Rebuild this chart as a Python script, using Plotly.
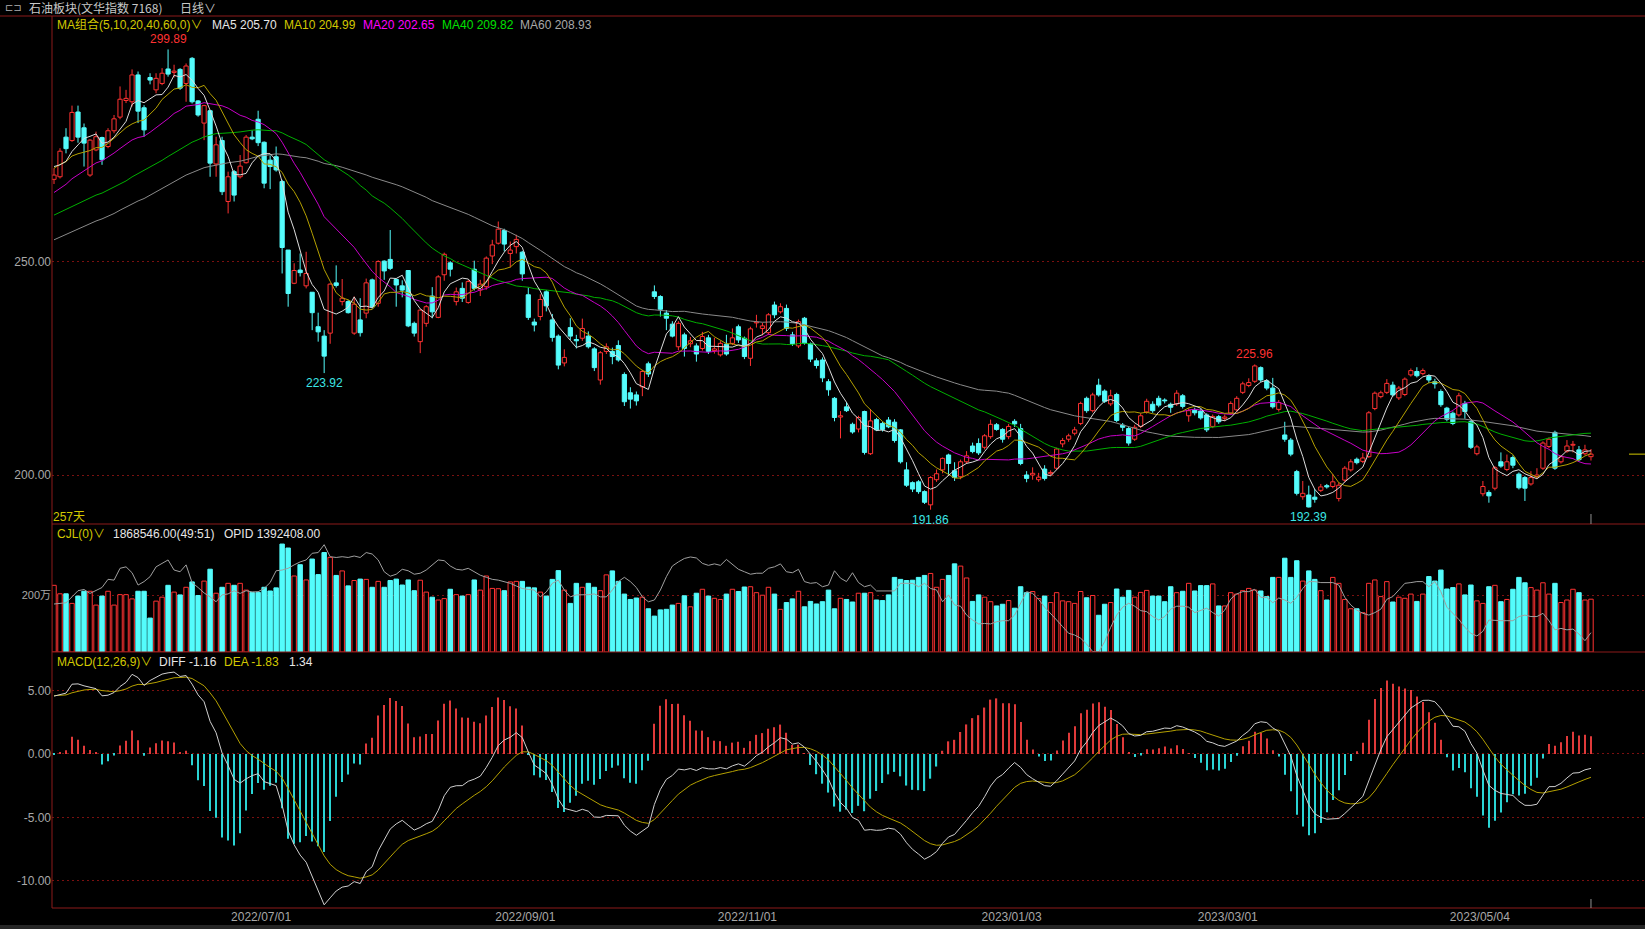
import numpy as np
import plotly.graph_objects as go

# ---------------- data ----------------
header_title = "石油板块(文华指数 7168)"
header_period = "日线∨"

pre_close = [238, 240, 242, 241, 239, 243, 245, 244, 246, 243,
             241, 244, 246, 248, 247, 245, 243, 246, 244, 247,
             249, 251, 253, 252, 250, 254, 256, 255, 253, 257,
             259, 258, 256, 254, 257, 259, 261, 260, 258, 262,
             258, 256, 259, 261, 260, 258, 262, 264, 263, 265,
             267, 270, 272, 274, 275,
             274, 272.5, 273.5, 271.6]

opens = [
    269.4, 270.0, 279.3, 278.5, 285.2, 281.5, 270.4, 276.3, 279.2, 277.1,
    280.8, 284.0, 287.9, 287.6, 293.9, 286.2, 293.3, 290.4, 291.9, 295.3,
    294.5, 295.2, 291.9, 297.8, 287.8, 282.6, 285.5, 273.0, 278.5, 264.2,
    271.2, 270.0, 273.3, 279.3, 283.5, 278.1, 273.9, 274.7, 268.9, 252.8,
    245.0, 248.1, 244.4, 242.9, 234.8, 232.6, 233.3, 245.1, 240.7, 240.7,
    233.3, 236.4, 238.0, 245.8, 240.3, 250.2, 250.6, 245.9, 244.4, 248.0,
    235.6, 231.3, 235.6, 242.0, 237.0, 247.0, 249.8, 240.7, 243.8, 240.5,
    248.3, 243.4, 244.2, 251.4, 254.4, 257.4, 252.0, 253.6, 252.3, 242.3,
    235.9, 237.2, 243.0, 236.4, 232.6, 226.3, 234.6, 231.8, 232.1, 232.6,
    229.6, 222.3, 229.0, 229.0, 230.4, 223.6, 219.3, 218.8, 220.7, 226.1,
    243.0, 241.9, 238.0, 235.4, 230.1, 232.9, 230.8, 230.3, 229.7, 232.2,
    229.2, 228.2, 230.7, 230.9, 234.8, 232.1, 227.4, 235.7, 234.4, 233.4,
    239.9, 238.3, 239.1, 232.9, 230.3, 236.8, 230.8, 226.8, 227.0, 221.9,
    218.0, 213.6, 216.0, 211.9, 210.8, 214.9, 205.0, 213.0, 212.1, 212.9,
    212.4, 210.6, 201.2, 198.2, 198.4, 196.1, 193.0, 198.9, 201.2, 204.7,
    201.0, 199.6, 203.1, 206.8, 207.4, 206.5, 209.0, 211.8, 210.7, 209.0,
    212.6, 210.9, 200.0, 200.0, 198.9, 201.4, 200.3, 201.6, 207.3, 208.4,
    209.8, 212.1, 218.0, 215.1, 221.1, 219.7, 216.7, 218.9, 211.7, 210.9,
    208.4, 211.4, 214.8, 216.6, 218.0, 217.6, 216.6, 216.7, 218.6, 213.9,
    215.2, 215.0, 214.1, 211.4, 213.7, 213.3, 214.5, 215.3, 219.4, 221.0,
    222.0, 225.2, 222.1, 220.4, 215.4, 209.4, 208.2, 200.8, 194.9, 195.3,
    194.8, 196.4, 197.5, 197.3, 194.5, 198.8, 201.2, 203.7, 203.2, 204.3,
    215.6, 218.4, 219.4, 221.1, 218.1, 218.9, 223.5, 224.3, 223.8, 223.1,
    221.9, 219.6, 215.7, 214.5, 214.1, 216.8, 212.5, 205.0, 195.6, 195.9,
    196.9, 203.1, 201.3, 204.1, 200.2, 199.4, 197.9, 199.6, 201.6, 206.7,
    210.0, 203.1, 205.6, 207.0, 205.9, 205.0, 204.3]

closes = [
    270.4, 276.0, 276.6, 285.1, 279.3, 277.9, 278.6, 279.4, 274.0, 280.8,
    283.6, 288.2, 288.4, 293.9, 285.4, 281.0, 292.7, 293.1, 294.3, 294.1,
    294.8, 290.8, 296.0, 287.6, 284.5, 286.7, 273.2, 277.5, 266.5, 270.0,
    265.7, 272.5, 279.3, 278.9, 278.0, 268.5, 272.4, 271.6, 253.4, 242.6,
    248.0, 247.5, 247.3, 238.1, 233.6, 227.9, 244.8, 244.5, 241.5, 238.1,
    240.1, 233.4, 245.1, 239.5, 250.1, 247.9, 248.5, 244.6, 243.4, 235.0,
    233.3, 238.7, 239.5, 238.3, 246.5, 251.8, 248.3, 243.0, 241.5, 245.4,
    243.8, 244.8, 250.9, 254.0, 257.7, 254.2, 252.8, 255.3, 247.2, 237.0,
    235.2, 241.2, 239.7, 232.3, 225.8, 227.6, 232.6, 231.5, 234.4, 230.1,
    225.2, 228.7, 230.1, 227.8, 227.0, 217.2, 217.8, 217.4, 224.3, 223.7,
    241.9, 238.9, 236.8, 232.6, 235.6, 229.7, 231.5, 228.4, 232.5, 229.0,
    229.6, 230.9, 228.4, 232.2, 231.7, 227.8, 234.3, 235.9, 235.0, 237.6,
    237.6, 239.5, 234.4, 230.8, 236.0, 230.9, 227.2, 225.7, 222.8, 220.0,
    213.5, 213.9, 215.1, 210.1, 213.5, 205.3, 212.7, 210.6, 210.7, 211.3,
    208.1, 203.1, 197.6, 196.7, 196.1, 193.6, 199.4, 200.3, 203.9, 202.7,
    199.4, 203.1, 204.5, 205.5, 205.2, 209.2, 211.9, 210.7, 208.4, 211.4,
    212.0, 202.7, 199.2, 200.4, 199.5, 199.2, 200.6, 206.1, 208.1, 209.2,
    210.6, 216.8, 215.1, 218.8, 218.8, 217.3, 218.6, 212.8, 211.2, 207.5,
    211.2, 213.9, 217.3, 215.1, 216.4, 217.4, 215.9, 219.2, 216.1, 215.1,
    214.6, 213.4, 210.6, 213.7, 212.5, 213.6, 216.8, 218.0, 221.4, 221.7,
    225.6, 222.3, 220.4, 216.0, 217.0, 208.4, 204.9, 195.7, 195.7, 192.5,
    194.3, 197.2, 197.2, 198.4, 197.6, 201.6, 203.1, 202.9, 204.0, 214.6,
    219.2, 219.3, 221.5, 218.8, 220.4, 222.5, 224.5, 223.3, 224.5, 222.3,
    221.4, 216.5, 213.1, 212.1, 218.6, 214.9, 206.5, 206.6, 197.3, 195.1,
    201.7, 202.1, 203.1, 202.3, 197.0, 196.9, 199.4, 200.0, 207.5, 208.4,
    201.6, 204.3, 206.8, 207.2, 203.6, 205.9, 204.9]

highs = [
    272.0, 276.7, 281.4, 286.7, 286.7, 282.5, 278.8, 280.6, 279.4, 281.4,
    284.5, 291.2, 290.4, 295.2, 294.7, 286.8, 294.3, 294.3, 295.5, 299.89,
    296.3, 295.5, 296.6, 298.1, 288.0, 286.9, 285.7, 279.4, 279.4, 271.2,
    271.6, 275.1, 279.8, 280.9, 285.5, 278.3, 275.0, 277.1, 269.3, 252.8,
    249.7, 252.0, 252.4, 242.9, 238.1, 234.0, 245.0, 249.2, 246.0, 241.1,
    241.9, 241.5, 246.1, 246.1, 250.4, 250.4, 257.5, 246.1, 245.7, 248.1,
    236.0, 238.9, 239.9, 244.1, 246.9, 252.2, 250.2, 244.0, 245.2, 245.8,
    250.3, 245.8, 251.3, 255.2, 259.5, 257.8, 254.8, 256.4, 252.6, 244.0,
    236.7, 242.4, 243.4, 237.8, 233.0, 229.5, 236.8, 232.9, 236.7, 233.7,
    230.0, 229.1, 230.9, 229.9, 231.6, 224.1, 220.6, 219.6, 224.7, 226.6,
    244.5, 242.2, 238.7, 236.1, 236.1, 233.4, 232.4, 230.9, 233.6, 232.9,
    232.2, 231.4, 232.9, 234.4, 235.3, 232.5, 234.8, 237.6, 235.7, 238.0,
    240.7, 240.3, 240.0, 233.6, 236.5, 237.1, 231.1, 227.4, 227.6, 222.5,
    218.3, 215.0, 217.1, 212.3, 213.9, 215.1, 215.5, 213.4, 212.5, 213.6,
    213.1, 210.8, 203.0, 198.5, 198.8, 196.4, 199.7, 201.3, 204.1, 205.0,
    203.0, 203.6, 205.6, 207.6, 208.6, 209.6, 213.0, 212.2, 211.0, 212.0,
    213.1, 212.0, 200.9, 201.8, 200.5, 202.3, 201.1, 206.4, 208.7, 209.7,
    211.3, 217.2, 218.4, 219.3, 222.6, 220.1, 220.0, 219.3, 212.2, 211.3,
    211.8, 214.5, 217.9, 217.3, 218.6, 218.0, 217.0, 219.9, 219.0, 215.7,
    215.8, 215.6, 214.5, 214.2, 214.1, 214.2, 217.3, 218.5, 221.9, 222.7,
    225.96, 225.5, 222.5, 222.8, 217.6, 212.5, 208.7, 201.2, 198.6, 197.5,
    196.7, 197.9, 197.9, 200.2, 198.2, 202.1, 203.7, 204.1, 205.2, 215.0,
    219.6, 219.8, 222.5, 221.9, 220.9, 222.9, 225.0, 225.3, 225.0, 223.6,
    222.6, 220.1, 216.0, 214.9, 219.3, 217.4, 212.9, 207.1, 198.6, 196.4,
    202.1, 205.3, 204.8, 204.6, 200.6, 199.8, 200.9, 201.6, 207.9, 208.8,
    210.4, 204.7, 208.2, 208.0, 206.8, 207.1, 206.1]

lows = [
    268.3, 269.6, 275.5, 278.2, 278.0, 272.4, 270.0, 276.0, 272.8, 276.7,
    280.2, 283.5, 287.3, 286.5, 282.6, 279.4, 291.7, 289.6, 291.5, 293.5,
    293.3, 290.4, 287.6, 287.2, 284.1, 278.6, 270.0, 270.0, 265.7, 261.4,
    264.2, 269.6, 273.1, 278.6, 277.2, 267.3, 267.1, 271.2, 247.3, 239.5,
    244.8, 246.6, 243.8, 234.0, 231.3, 223.92, 230.8, 244.0, 239.8, 237.9,
    232.9, 232.5, 236.8, 239.1, 239.5, 245.8, 248.1, 239.5, 241.7, 234.7,
    232.5, 228.6, 234.8, 236.8, 236.8, 245.6, 246.6, 239.8, 240.6, 240.2,
    243.3, 242.0, 243.5, 249.5, 254.1, 252.5, 248.7, 252.0, 245.6, 236.4,
    233.7, 236.3, 238.4, 231.3, 224.8, 225.5, 231.7, 229.7, 231.5, 229.7,
    224.4, 221.2, 228.4, 226.0, 226.6, 216.2, 215.6, 216.3, 218.5, 223.0,
    241.3, 237.2, 234.0, 232.3, 229.3, 227.8, 230.0, 226.6, 229.2, 228.4,
    228.5, 227.8, 228.0, 230.5, 231.0, 227.2, 225.6, 234.6, 232.8, 232.9,
    236.8, 237.9, 233.8, 230.3, 229.8, 230.6, 226.5, 225.0, 221.8, 218.6,
    212.6, 208.6, 214.8, 209.7, 210.0, 204.8, 204.7, 210.3, 210.2, 211.0,
    207.6, 202.7, 197.2, 196.0, 195.6, 193.2, 191.86, 198.4, 200.4, 199.9,
    198.6, 199.0, 202.6, 205.1, 204.7, 206.0, 208.5, 210.4, 207.6, 208.4,
    211.3, 202.3, 198.3, 198.9, 198.4, 198.7, 199.8, 201.2, 206.5, 207.8,
    209.3, 211.7, 214.6, 214.7, 218.4, 216.9, 216.2, 212.4, 210.3, 206.9,
    208.0, 211.0, 214.4, 214.6, 215.9, 216.8, 214.6, 216.2, 215.6, 212.5,
    214.0, 213.0, 210.1, 211.0, 212.0, 212.6, 214.1, 214.8, 219.0, 220.6,
    221.6, 221.8, 219.9, 215.6, 214.9, 207.8, 204.4, 195.2, 194.2, 192.39,
    193.5, 196.0, 196.8, 196.9, 193.8, 198.3, 200.8, 202.5, 202.8, 204.0,
    215.2, 218.0, 219.0, 218.4, 217.6, 218.5, 223.1, 222.9, 223.4, 221.6,
    220.3, 216.0, 212.6, 211.7, 213.7, 213.2, 206.1, 204.6, 195.0, 193.5,
    196.4, 201.7, 200.9, 201.6, 196.6, 193.9, 197.5, 199.2, 201.2, 206.3,
    201.2, 202.7, 205.2, 205.3, 203.2, 204.6, 203.4]

# volume in 万 (10k)
volume_wan = [
    236, 206, 206, 172, 198, 215, 215, 166, 198, 215,
    166, 203, 203, 188, 215, 215, 120, 180, 194, 236,
    212, 202, 229, 248, 200, 251, 293, 208, 229, 243,
    236, 243, 219, 211, 211, 229, 216, 227, 382, 368,
    269, 309, 255, 329, 274, 352, 335, 271, 287, 234,
    253, 258, 257, 229, 250, 229, 253, 258, 237, 255,
    217, 254, 212, 194, 184, 189, 222, 203, 198, 203,
    255, 219, 269, 225, 224, 217, 248, 250, 250, 229,
    227, 212, 198, 257, 288, 219, 172, 243, 229, 243,
    229, 217, 273, 287, 250, 205, 186, 191, 194, 153,
    127, 149, 151, 166, 172, 199, 160, 208, 222, 198,
    190, 186, 205, 222, 214, 230, 231, 210, 201, 229,
    205, 151, 175, 188, 215, 160, 179, 170, 178, 219,
    153, 190, 186, 177, 208, 208, 210, 184, 182, 202,
    264, 257, 253, 254, 264, 271, 278, 229, 257, 271,
    312, 304, 262, 179, 202, 194, 178, 163, 169, 182,
    155, 231, 210, 214, 189, 198, 175, 210, 181, 178,
    172, 214, 192, 200, 130, 169, 175, 223, 194, 218,
    194, 211, 218, 198, 198, 178, 231, 210, 215, 243,
    216, 235, 235, 241, 163, 163, 210, 205, 217, 225,
    219, 216, 196, 264, 264, 332, 264, 323, 251, 287,
    257, 217, 184, 264, 243, 186, 153, 153, 139, 243,
    255, 196, 249, 177, 194, 190, 205, 179, 205, 267,
    251, 290, 223, 228, 241, 202, 237, 181, 172, 231,
    236, 178, 186, 222, 264, 245, 228, 219, 245, 205,
    243, 175, 184, 222, 210, 184, 186.85]

# OPID line (万)
opid_wan = [
    197.5, 198, 200, 212, 224.5, 227, 219, 225, 231, 247.6,
    246, 270, 273, 261, 236, 243, 253, 273, 280, 287,
    266.5, 263, 277, 241, 231, 220, 212, 202, 216, 218,
    224.5, 219, 224.5, 222, 222.5, 229, 241, 265, 266.5, 270,
    277, 283, 287, 300.5, 302, 318, 293.6, 292, 293.6, 292,
    295, 292, 302, 299, 287, 263, 254, 258, 268, 265,
    258, 260, 266.5, 277, 287, 285.5, 274.7, 268, 266.5, 270,
    263, 256, 251.7, 247.6, 246, 243, 239.5, 234, 229, 227,
    226, 212, 222, 239.5, 246, 226, 212, 216, 216, 216.4,
    218, 212, 212, 226, 243, 251.7, 243, 231, 212, 202,
    205.6, 226, 253, 274.7, 283, 290, 293, 291, 280, 276,
    279, 276, 288, 277, 268, 263, 258, 260, 260, 270,
    273, 279, 263, 261, 268, 243, 239.5, 241, 232.6, 236,
    265, 250, 243, 261, 241, 232.6, 236, 224, 224, 224,
    224, 239.5, 239.5, 239.5, 232.6, 239.5, 229, 226, 202, 216,
    195.5, 193, 175, 165, 157, 158, 157, 161.5, 163.6, 163.6,
    175, 199, 222.6, 219, 207, 191, 178.6, 165, 151.5, 138,
    134.5, 128, 116, 101, 100, 121, 150, 175, 191, 199,
    193, 184, 182, 172, 165, 172, 187, 193, 193, 191,
    180, 184, 189, 180, 173, 185, 207.6, 218, 222.6, 222.6,
    227.4, 211, 211, 200, 209.7, 205.6, 199, 211, 229, 243,
    243, 241, 241, 241, 236, 211, 195.5, 185, 178.6, 175,
    180, 187, 207, 212.6, 226, 239.5, 241, 243, 243, 232.6,
    243, 222.6, 191, 178.6, 166, 150, 138, 132.5, 142, 165,
    163.6, 163.6, 163.6, 163.6, 172, 175, 172, 172, 178.6, 163.6,
    145, 148, 145, 146.6, 136.5, 123, 139.24]

date_labels = ["2022/07/01", "2022/09/01", "2022/11/01", "2023/01/03", "2023/03/01", "2023/05/04"]
date_index = [35, 79, 116, 160, 196, 238]

# extreme-value marks: (candle index, 'high'/'low')
extreme_marks = [(19, "high"), (45, "low"), (146, "low"), (200, "high"), (209, "low")]

ma_legend = [("MA组合(5,10,20,40,60,0)∨", "#d2c800"), ("MA5 205.70", "#e6e6e6"),
             ("MA10 204.99", "#d2c800"), ("MA20 202.65", "#ff00ff"),
             ("MA40 209.82", "#00e000"), ("MA60 208.93", "#a8a8a8")]
vol_legend = [("CJL(0)∨", "#d2c800"), ("1868546.00(49:51)", "#e6e6e6"), ("OPID 1392408.00", "#e6e6e6")]
macd_legend = [("MACD(12,26,9)∨", "#d2c800"), ("DIFF -1.16", "#e6e6e6"), ("DEA -1.83", "#d2c800"), ("1.34", "#e6e6e6")]
days_label = "257天"

# ---------------- styling ----------------
W, H = 1645, 929
LM, RM, TM, BM = 52, 0, 17, 21
PW = W - LM - RM
PH = H - TM - BM
RED = "#ff3232"
CYAN = "#54fcfc"
BORDER = "#8c1a1a"
GRID = "#7a1010"
AXT = "#a8a8a8"
FONT = "Liberation Sans, Noto Sans CJK SC, sans-serif"
CJK = "Noto Sans CJK SC, Liberation Sans, sans-serif"


def px(x):
    return (x - LM) / PW


def py(y):
    return (H - BM - y) / PH


o = np.array(opens, float)
c = np.array(closes, float)
hi = np.maximum(np.array(highs, float), np.maximum(o, c))
lo = np.minimum(np.array(lows, float), np.minimum(o, c))
vol = np.array(volume_wan, float)
opid = np.array(opid_wan, float)
n = len(c)
ix = np.arange(n)
up = c >= o

allc = np.concatenate([np.array(pre_close, float), c])
npre = len(pre_close)


def sma(k):
    out = np.full(len(allc), np.nan)
    cs = np.cumsum(np.insert(allc, 0, 0.0))
    out[k - 1:] = (cs[k:] - cs[:-k]) / k
    return out[npre:]


def ema(x, k):
    a = 2.0 / (k + 1)
    out = np.empty(len(x))
    out[0] = x[0]
    for t in range(1, len(x)):
        out[t] = a * x[t] + (1 - a) * out[t - 1]
    return out


diff_all = ema(allc, 12) - ema(allc, 26)
dea_all = ema(diff_all, 9)
diff = diff_all[npre:]
dea = dea_all[npre:]
hist = 2 * (diff - dea)

fig = go.Figure()


def wick_segments(mask):
    X, Y = [], []
    top = np.maximum(o, c)
    bot = np.minimum(o, c)
    for i in ix[mask]:
        if hi[i] > top[i]:
            X += [i, i, None]
            Y += [top[i], hi[i], None]
        if lo[i] < bot[i]:
            X += [i, i, None]
            Y += [bot[i], lo[i], None]
    return X, Y


for mask, col in ((up, RED), (~up, CYAN)):
    X, Y = wick_segments(mask)
    fig.add_trace(go.Scatter(x=X, y=Y, mode="lines", line=dict(color=col, width=1),
                             hoverinfo="skip", showlegend=False, xaxis="x", yaxis="y"))

base = np.minimum(o, c)
bh = np.maximum(np.abs(c - o), 0.12)
fig.add_trace(go.Bar(x=ix[up], y=bh[up], base=base[up], width=0.7,
                     marker=dict(color="#000000", line=dict(color=RED, width=1)),
                     showlegend=False, hoverinfo="skip", xaxis="x", yaxis="y"))
fig.add_trace(go.Bar(x=ix[~up], y=bh[~up], base=base[~up], width=0.7,
                     marker=dict(color=CYAN, line=dict(color=CYAN, width=1)),
                     showlegend=False, hoverinfo="skip", xaxis="x", yaxis="y"))

ma_cfg = [(60, "#8a8a8a"), (40, "#00b000"), (20, "#c800c8"), (10, "#b4a000"), (5, "#dcdcdc")]
for k, col in ma_cfg:
    fig.add_trace(go.Scatter(x=ix, y=sma(k), mode="lines", line=dict(color=col, width=1),
                             hoverinfo="skip", showlegend=False, xaxis="x", yaxis="y"))

# volume
fig.add_trace(go.Bar(x=ix[up], y=vol[up], width=0.74,
                     marker=dict(color="#000000", line=dict(color=RED, width=1)),
                     showlegend=False, hoverinfo="skip", xaxis="x", yaxis="y2"))
fig.add_trace(go.Bar(x=ix[~up], y=vol[~up], width=0.74,
                     marker=dict(color=CYAN, line=dict(color=CYAN, width=1)),
                     showlegend=False, hoverinfo="skip", xaxis="x", yaxis="y2"))
fig.add_trace(go.Scatter(x=ix, y=opid, mode="lines", line=dict(color="#a0a0a0", width=1),
                         hoverinfo="skip", showlegend=False, xaxis="x", yaxis="y4"))

# MACD
fig.add_trace(go.Bar(x=ix, y=hist, width=0.2,
                     marker=dict(color=["#e03a3a" if v >= 0 else "#2ad4d4" for v in hist], line=dict(width=0)),
                     showlegend=False, hoverinfo="skip", xaxis="x", yaxis="y3"))
fig.add_trace(go.Scatter(x=ix, y=dea, mode="lines", line=dict(color="#b4a000", width=1),
                         hoverinfo="skip", showlegend=False, xaxis="x", yaxis="y3"))
fig.add_trace(go.Scatter(x=ix, y=diff, mode="lines", line=dict(color="#d0d0d0", width=1),
                         hoverinfo="skip", showlegend=False, xaxis="x", yaxis="y3"))

# ---------------- layout ----------------
main_dom = [py(524), 1.0]
vol_dom = [py(652), py(524)]
macd_dom = [0.0, py(652)]

yax_common = dict(showline=False, zeroline=False, ticks="", fixedrange=True,
                  gridcolor=GRID, griddash="2px,3px", gridwidth=1,
                  tickfont=dict(color=AXT, size=12, family=FONT))

fig.update_layout(
    width=W, height=H,
    margin=dict(l=LM, r=RM, t=TM, b=BM),
    paper_bgcolor="#000000", plot_bgcolor="#000000",
    barmode="overlay", hovermode=False, showlegend=False,
    xaxis=dict(range=[-0.333, 265.0], anchor="y3", showgrid=False, zeroline=False,
               showline=False, ticks="", fixedrange=True,
               tickvals=[d - 0.5 for d in date_index], ticktext=date_labels,
               tickfont=dict(color=AXT, size=12, family=FONT)),
    yaxis=dict(domain=main_dom, range=[188.5, 307.5], tickvals=[200, 250],
               ticktext=["200.00", "250.00"], **yax_common),
    yaxis2=dict(domain=vol_dom, range=[0, 453], tickvals=[200], ticktext=["200万"],
                **yax_common),
    yaxis3=dict(domain=macd_dom, range=[-12.13, 8.03], tickvals=[-10, -5, 0, 5],
                ticktext=["-10.00", "-5.00", "0.00", "5.00"], **yax_common),
    yaxis4=dict(overlaying="y2", range=[100, 360], visible=False, fixedrange=True),
)
fig.layout.yaxis2.tickfont.size = 11

shapes = []
line = dict(color=BORDER, width=1)
shapes.append(dict(type="line", xref="paper", yref="paper", x0=px(0), x1=1, y0=py(16), y1=py(16), line=line))
shapes.append(dict(type="line", xref="paper", yref="paper", x0=0, x1=0, y0=0, y1=py(16), line=line))
for yy in (524, 652, 908):
    shapes.append(dict(type="line", xref="paper", yref="paper", x0=0, x1=1, y0=py(yy), y1=py(yy), line=line))
# last-price marker at right edge
shapes.append(dict(type="line", xref="paper", yref="y", x0=px(1629), x1=1, y0=c[-1], y1=c[-1],
                   line=dict(color="#d2c800", width=1)))
# cursor ticks at the last bar
shapes.append(dict(type="line", xref="x", yref="paper", x0=n - 1, x1=n - 1, y0=py(524), y1=py(514),
                   line=dict(color="#909090", width=1)))
shapes.append(dict(type="line", xref="x", yref="paper", x0=n - 1, x1=n - 1, y0=0, y1=py(899),
                   line=dict(color="#909090", width=1)))
# bottom strip
shapes.append(dict(type="rect", xref="paper", yref="paper", x0=px(0), x1=1, y0=py(929), y1=py(925),
                   fillcolor="#262626", line=dict(width=0)))
fig.update_layout(shapes=shapes)

ann = []


def txt(x, y, s, col, size=12, fam=FONT, anchor="left"):
    ann.append(dict(xref="paper", yref="paper", x=px(x), y=py(y), text=s, showarrow=False,
                    xanchor=anchor, yanchor="middle", font=dict(color=col, size=size, family=fam)))


# header row
txt(3, 8, "⊏⊐", "#b0b0b0", 10, "DejaVu Sans")
txt(27, 8, header_title, "#c8c8c8", 12, CJK)
txt(178, 8, header_period, "#c8c8c8", 12, CJK)

for (s, col), x in zip(ma_legend, [55, 210, 282, 361, 440, 518]):
    txt(x, 25, s, col, 12, FONT)
for (s, col), x in zip(vol_legend, [55, 111, 222]):
    txt(x, 534, s, col, 12, FONT)
for (s, col), x in zip(macd_legend, [55, 157, 222, 287]):
    txt(x, 662, s, col, 12, FONT)
txt(51, 517, days_label, "#d2c800", 12, FONT)

for i, kind in extreme_marks:
    if kind == "high":
        ann.append(dict(xref="x", yref="y", x=i, y=hi[i], text=f"{hi[i]:.2f}", showarrow=False,
                        xanchor="center", yanchor="bottom", yshift=1,
                        font=dict(color=RED, size=12, family=FONT)))
    else:
        ann.append(dict(xref="x", yref="y", x=i, y=lo[i], text=f"{lo[i]:.2f}", showarrow=False,
                        xanchor="center", yanchor="top", yshift=-1,
                        font=dict(color="#3ce6e6", size=12, family=FONT)))

fig.update_layout(annotations=ann)

page_fix = ("document.body.style.margin='0';document.body.style.padding='0';"
            "document.body.style.background='#000';"
            "document.documentElement.style.background='#000';"
            "document.body.style.overflow='hidden';")
fig.write_html("out.html", post_script=page_fix, config={"displayModeBar": False})
